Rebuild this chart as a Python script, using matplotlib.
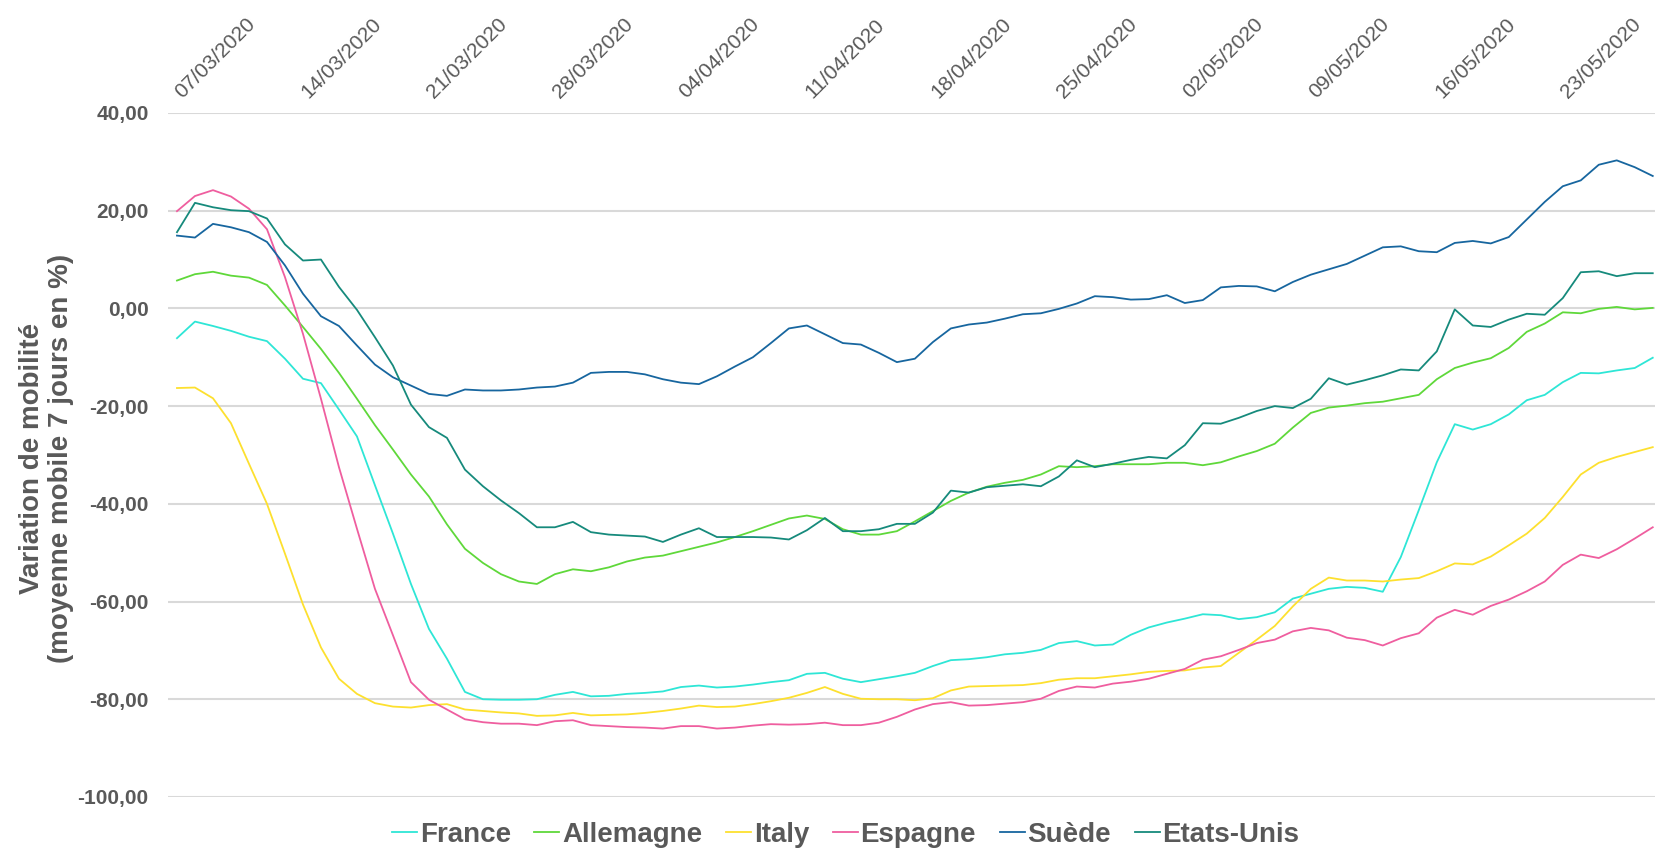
import numpy as np
import pandas as pd
import matplotlib
matplotlib.use('Agg')
import matplotlib.pyplot as plt
import matplotlib.transforms as mtransforms
from matplotlib.ticker import FuncFormatter

# Données (moyenne mobile 7 jours, en %)
start = '2020-03-07'
n_days = 83

france = [-6.1, -2.7, -3.6, -4.6, -5.8, -6.7, -10.3, -14.4, -15.3, -20.7, -26.2, -36.2, -46.1, -56.4,
          -65.6, -71.7, -78.5, -80.0, -80.1, -80.1, -80.0, -79.1, -78.5, -79.4, -79.3, -78.9, -78.7, -78.4,
          -77.5, -77.2, -77.6, -77.4, -77.0, -76.5, -76.1, -74.8, -74.6, -75.8, -76.5, -75.9, -75.3, -74.6,
          -73.2, -72.0, -71.8, -71.4, -70.8, -70.5, -69.9, -68.5, -68.1, -69.0, -68.8, -66.8, -65.3, -64.3,
          -63.5, -62.6, -62.8, -63.6, -63.2, -62.2, -59.4, -58.4, -57.4, -57.0, -57.2, -58.0, -50.9, -41.3,
          -31.5, -23.7, -24.8, -23.7, -21.7, -18.8, -17.7, -15.1, -13.2, -13.3, -12.7, -12.2, -10.1]

allemagne = [5.7, 7.0, 7.5, 6.7, 6.3, 4.8, 0.6, -3.8, -8.3, -13.2, -18.5, -23.9, -28.9, -34.0,
             -38.5, -44.2, -49.2, -52.1, -54.4, -55.9, -56.4, -54.4, -53.4, -53.8, -53.0, -51.8, -51.0, -50.6,
             -49.7, -48.8, -47.9, -46.8, -45.6, -44.3, -43.0, -42.4, -43.1, -45.2, -46.3, -46.3, -45.6, -43.6,
             -41.5, -39.4, -37.7, -36.5, -35.7, -35.1, -34.0, -32.3, -32.5, -32.3, -31.9, -31.9, -31.9, -31.6,
             -31.6, -32.1, -31.5, -30.3, -29.2, -27.7, -24.4, -21.4, -20.3, -19.9, -19.4, -19.1, -18.4, -17.7,
             -14.5, -12.2, -11.1, -10.2, -8.1, -4.8, -3.1, -0.8, -1.0, -0.1, 0.3, -0.2, 0.1]

italy = [-16.3, -16.2, -18.4, -23.5, -31.8, -40.0, -50.2, -60.6, -69.4, -75.8, -78.9, -80.8, -81.5, -81.7,
         -81.2, -81.0, -82.1, -82.4, -82.7, -82.9, -83.4, -83.3, -82.8, -83.3, -83.2, -83.1, -82.8, -82.4,
         -81.9, -81.3, -81.6, -81.5, -81.0, -80.4, -79.7, -78.7, -77.5, -78.9, -79.9, -80.0, -80.0, -80.2,
         -79.8, -78.2, -77.4, -77.3, -77.2, -77.1, -76.7, -76.0, -75.7, -75.7, -75.3, -74.9, -74.4, -74.2,
         -74.1, -73.5, -73.2, -70.5, -67.8, -65.0, -61.0, -57.4, -55.1, -55.7, -55.7, -55.9, -55.5, -55.2,
         -53.8, -52.2, -52.4, -50.8, -48.5, -46.1, -42.9, -38.6, -34.0, -31.6, -30.4, -29.4, -28.4]

espagne = [19.9, 23.0, 24.2, 22.9, 20.4, 16.2, 6.4, -5.2, -18.5, -32.5, -45.1, -57.4, -66.9, -76.5,
           -80.1, -82.1, -84.1, -84.7, -85.0, -85.0, -85.3, -84.5, -84.3, -85.3, -85.5, -85.7, -85.8, -86.0,
           -85.5, -85.5, -86.0, -85.8, -85.4, -85.1, -85.2, -85.1, -84.8, -85.3, -85.3, -84.8, -83.6, -82.1,
           -81.0, -80.6, -81.3, -81.2, -80.9, -80.6, -79.9, -78.3, -77.4, -77.6, -76.8, -76.4, -75.8, -74.8,
           -73.8, -71.9, -71.2, -69.9, -68.5, -67.8, -66.1, -65.4, -65.9, -67.4, -67.9, -69.0, -67.5, -66.5,
           -63.3, -61.7, -62.7, -60.9, -59.6, -57.9, -55.9, -52.5, -50.4, -51.1, -49.3, -47.1, -44.8]

suede = [14.9, 14.5, 17.3, 16.6, 15.6, 13.6, 8.8, 3.0, -1.6, -3.6, -7.6, -11.5, -14.1, -15.8,
         -17.5, -17.9, -16.6, -16.8, -16.8, -16.6, -16.2, -16.0, -15.2, -13.2, -13.0, -13.0, -13.5, -14.5,
         -15.2, -15.5, -13.9, -11.9, -10.0, -7.1, -4.1, -3.5, -5.3, -7.1, -7.4, -9.1, -11.0, -10.3,
         -6.9, -4.1, -3.3, -2.9, -2.1, -1.2, -1.0, -0.1, 1.0, 2.5, 2.3, 1.8, 1.9, 2.7,
         1.1, 1.7, 4.3, 4.6, 4.5, 3.5, 5.4, 6.9, 8.0, 9.1, 10.8, 12.5, 12.7, 11.7,
         11.5, 13.4, 13.8, 13.3, 14.6, 18.2, 21.8, 25.0, 26.2, 29.4, 30.3, 28.9, 27.1]

etats_unis = [15.6, 21.6, 20.7, 20.1, 19.9, 18.4, 13.1, 9.8, 10.0, 4.4, -0.3, -5.9, -11.7, -19.7,
              -24.3, -26.5, -33.0, -36.4, -39.3, -41.9, -44.8, -44.8, -43.7, -45.8, -46.3, -46.5, -46.7, -47.8,
              -46.3, -45.0, -46.8, -46.8, -46.8, -46.9, -47.3, -45.4, -42.9, -45.6, -45.6, -45.2, -44.1, -44.1,
              -41.8, -37.3, -37.7, -36.6, -36.3, -36.0, -36.4, -34.4, -31.1, -32.5, -31.8, -31.0, -30.4, -30.7,
              -28.0, -23.5, -23.6, -22.4, -21.0, -20.0, -20.4, -18.5, -14.3, -15.6, -14.7, -13.7, -12.5, -12.7,
              -8.8, -0.2, -3.5, -3.8, -2.3, -1.1, -1.3, 2.1, 7.4, 7.6, 6.6, 7.2, 7.2]

series = [('France', france, '#2ee6d6'),
          ('Allemagne', allemagne, '#5fd83a'),
          ('Italy', italy, '#fde02f'),
          ('Espagne', espagne, '#ef5e9f'),
          ('Suède', suede, '#17669f'),
          ('Etats-Unis', etats_unis, '#168a7c')]

dates = pd.date_range(start, periods=n_days, freq='D')
tick_dates = dates[::7]

gris = '#595959'
plt.rcParams['font.family'] = ['Liberation Sans', 'DejaVu Sans']

fig = plt.figure(figsize=(16.55, 8.5), dpi=100)
ax = fig.add_axes([0.1015, 0.0624, 0.8985, 0.8047])

for nom, vals, coul in series:
    ax.plot(dates, vals, color=coul, lw=1.3, label=nom)

ax.set_ylim(-100, 40)
ax.set_yticks(np.arange(-100, 41, 20))
ax.yaxis.set_major_formatter(FuncFormatter(lambda v, p: f'{v:.2f}'.replace('.', ',')))
ax.set_xlim(dates[0] - pd.Timedelta(hours=12), dates[-1] + pd.Timedelta(hours=3))
ax.set_xticks(tick_dates)
ax.set_xticklabels([d.strftime('%d/%m/%Y') for d in tick_dates])

ax.xaxis.tick_top()
ax.tick_params(axis='x', length=0, pad=8, labelsize=15, labelcolor=gris)
ax.tick_params(axis='y', length=0, pad=14, labelsize=15, labelcolor=gris)
decal = mtransforms.ScaledTranslation(8 / 100, 0, fig.dpi_scale_trans)
for lab in ax.get_xticklabels():
    lab.set_rotation(45)
    lab.set_ha('left')
    lab.set_va('bottom')
    lab.set_rotation_mode('anchor')
    lab.set_transform(lab.get_transform() + decal)
for lab in ax.get_yticklabels():
    lab.set_fontweight('bold')

ax.grid(axis='y', color='#d9d9d9', lw=1.5)
ax.set_axisbelow(True)
for s in ax.spines.values():
    s.set_visible(False)

fig.text(47 / 1655, 0.461, 'Variation de mobilité\n(moyenne mobile 7 jours en %)',
         rotation=90, ha='center', va='center', fontsize=20, fontweight='bold',
         color=gris, multialignment='center', linespacing=1.15)

leg = fig.legend(loc='center', bbox_to_anchor=(0.511, 0.018), ncol=6, frameon=False,
                 handlelength=0.9, handletextpad=0.1, columnspacing=0.85,
                 prop={'size': 20, 'weight': 'bold'})
for t in leg.get_texts():
    t.set_color(gris)

fig.savefig('out.png', dpi=100)
